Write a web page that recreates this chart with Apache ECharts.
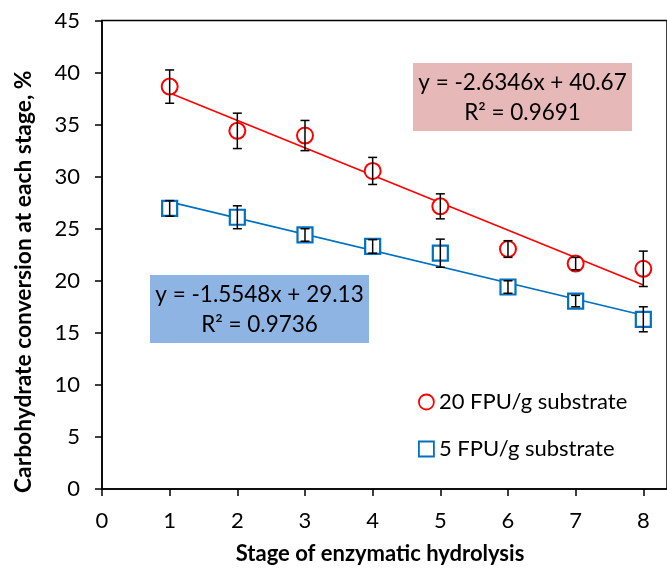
<!DOCTYPE html>
<html><head><meta charset="utf-8">
<script src="https://cdn.jsdelivr.net/npm/echarts@6/dist/echarts.min.js"></script>
<style>html,body{margin:0;padding:0;background:#fff}#c{width:667px;height:573px}</style>
</head><body><div id="c"></div>
<script>
const stages = [1, 2, 3, 4, 5, 6, 7, 8];
const fpu20 = [38.65, 34.4, 33.95, 30.55, 27.15, 23.05, 21.65, 21.15];
const fpu20Err = [1.6, 1.7, 1.45, 1.3, 1.2, 0.8, 0.6, 1.7];
const fpu5 = [26.95, 26.1, 24.4, 23.3, 22.65, 19.4, 18.05, 16.3];
const fpu5Err = [0.75, 1.1, 0.6, 0.65, 1.35, 0.6, 0.55, 1.2];
const trendX = [1, 8];
const trend20 = [38.04, 19.59];
const trend5 = [27.58, 16.69];
const eq20 = ['y = -2.6346x + 40.67', 'R² = 0.9691'];
const eq5 = ['y = -1.5548x + 29.13', 'R² = 0.9736'];
const name20 = '20 FPU/g substrate';
const name5 = '5 FPU/g substrate';
const xTitle = 'Stage of enzymatic hydrolysis';
const yTitle = 'Carbohydrate conversion at each stage, %';

const FONT = 'Lato';
const chart = echarts.init(document.getElementById('c'), null, {renderer: 'canvas'});

function errRender(params, api) {
  const x = api.value(0), y = api.value(1), e = api.value(2);
  const t = api.coord([x, y + e]), b = api.coord([x, y - e]);
  const hw = 4.5;
  const style = {stroke: '#000', lineWidth: 1.5};
  return {type: 'group', children: [
    {type: 'line', shape: {x1: t[0], y1: t[1], x2: b[0], y2: b[1]}, style: style},
    {type: 'line', shape: {x1: t[0] - hw, y1: t[1], x2: t[0] + hw, y2: t[1]}, style: style},
    {type: 'line', shape: {x1: b[0] - hw, y1: b[1], x2: b[0] + hw, y2: b[1]}, style: style}
  ]};
}

const zip = (xs, ys) => xs.map((x, i) => [x, ys[i]]);
const zip3 = (xs, ys, es) => xs.map((x, i) => [x, ys[i], es[i]]);

function eqBox(x, y, w, h, fill, lines) {
  return [
    {type: 'rect', shape: {x: x, y: y, width: w, height: h}, style: {fill: fill}, z: 10},
    {type: 'text', x: x + w / 2, y: y + 20, z: 11, style: {text: lines[0], font: '22.5px ' + FONT, fill: '#000', align: 'center', verticalAlign: 'middle'}},
    {type: 'text', x: x + w / 2, y: y + 50, z: 11, style: {text: lines[1], font: '22.5px ' + FONT, fill: '#000', align: 'center', verticalAlign: 'middle'}}
  ];
}

chart.setOption({
  animation: false,
  backgroundColor: '#fff',
  grid: {left: 102, top: 20.5, width: 565.3, height: 468.5, show: true, borderColor: '#000', borderWidth: 1.5, backgroundColor: 'transparent'},
  xAxis: {
    type: 'value', min: 0, max: 8.35, interval: 1,
    name: xTitle, nameLocation: 'middle', nameGap: 54,
    nameTextStyle: {fontFamily: FONT, fontWeight: 'bold', fontSize: 22, color: '#000', padding: [0, 9, 0, 0]},
    axisLine: {lineStyle: {color: '#000', width: 1.5}},
    axisTick: {show: true, inside: false, length: 7, lineStyle: {color: '#000', width: 1.5}},
    axisLabel: {showMaxLabel: false, margin: 21, fontFamily: FONT, fontSize: 22, color: '#000'},
    splitLine: {show: false}
  },
  yAxis: {
    type: 'value', min: 0, max: 45, interval: 5,
    name: yTitle, nameLocation: 'middle', nameGap: 67, nameRotate: 90,
    nameTextStyle: {fontFamily: FONT, fontWeight: 'bold', fontSize: 22.8, color: '#000', padding: [0, 54, 0, 0]},
    axisLine: {lineStyle: {color: '#000', width: 1.5}},
    axisTick: {show: true, inside: false, length: 7, lineStyle: {color: '#000', width: 1.5}},
    axisLabel: {margin: 22, fontFamily: FONT, fontSize: 22, color: '#000'},
    splitLine: {show: false}
  },
  legend: {
    orient: 'vertical', left: 413, top: 386, itemWidth: 15, itemHeight: 15, itemGap: 25,
    textStyle: {fontFamily: FONT, fontSize: 22, color: '#000'},
    data: [
      {name: name20, icon: 'circle', itemStyle: {color: '#fff', borderColor: '#FF0000', borderWidth: 1.8}},
      {name: name5, icon: 'rect', itemStyle: {color: '#fff', borderColor: '#0070C0', borderWidth: 1.8}}
    ]
  },
  graphic: [].concat(
    eqBox(413, 63, 219, 68, '#E6B8B7', eq20),
    eqBox(150, 275, 219, 68, '#8EB4E3', eq5)
  ),
  series: [
    {type: 'line', name: 'trend20', data: zip(trendX, trend20), symbol: 'none', z: 1, lineStyle: {color: '#FF0000', width: 1.6}, silent: true},
    {type: 'line', name: 'trend5', data: zip(trendX, trend5), symbol: 'none', z: 1, lineStyle: {color: '#0070C0', width: 1.6}, silent: true},
    {type: 'scatter', name: name20, data: zip(stages, fpu20), symbol: 'circle', symbolSize: 16, z: 2,
      itemStyle: {color: '#fff', borderColor: '#FF0000', borderWidth: 2, opacity: 1}},
    {type: 'scatter', name: name5, data: zip(stages, fpu5), symbol: 'rect', symbolSize: 15, z: 2,
      itemStyle: {color: '#fff', borderColor: '#0070C0', borderWidth: 2.2, opacity: 1}},
    {type: 'custom', name: 'err20', data: zip3(stages, fpu20, fpu20Err), renderItem: errRender, z: 3, silent: true},
    {type: 'custom', name: 'err5', data: zip3(stages, fpu5, fpu5Err), renderItem: errRender, z: 3, silent: true}
  ]
});
</script></body></html>
